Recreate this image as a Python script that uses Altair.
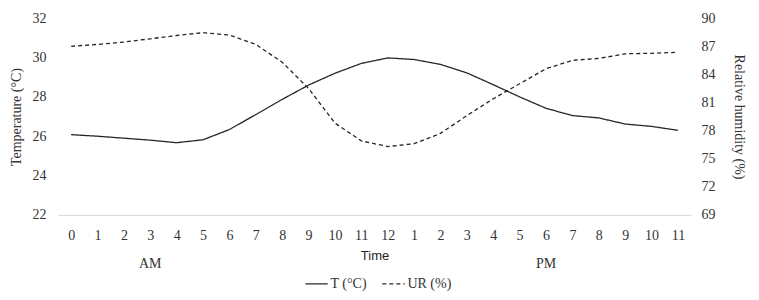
import json
import altair as alt
import pandas as pd

hour_labels = ["0", "1", "2", "3", "4", "5", "6", "7", "8", "9", "10", "11",
               "12", "1", "2", "3", "4", "5", "6", "7", "8", "9", "10", "11"]
temperature = [26.08, 26.0, 25.9, 25.8, 25.67, 25.82, 26.34, 27.1, 27.87, 28.6, 29.2, 29.7,
               29.98, 29.9, 29.65, 29.22, 28.62, 28.0, 27.42, 27.05, 26.93, 26.62, 26.5, 26.3]
humidity = [87.0, 87.2, 87.45, 87.8, 88.15, 88.45, 88.2, 87.2, 85.3, 82.5, 78.8, 76.9,
            76.3, 76.6, 77.7, 79.6, 81.4, 83.0, 84.6, 85.5, 85.7, 86.2, 86.25, 86.35]
series_names = ["T (°C)", "UR (%)"]
period_labels = ["AM", "PM"]
period_pos = [3, 18]

idx = list(range(len(hour_labels)))
df = pd.DataFrame({"idx": idx, "T": temperature, "UR": humidity,
                   "sT": series_names[0], "sUR": series_names[1]})
df_p = pd.DataFrame({"idx": period_pos, "label": period_labels})

SERIF = "Liberation Serif"
INK = "#262626"

x_enc = alt.X("idx:O",
              scale=alt.Scale(type="point", domain=idx, padding=0.5),
              axis=alt.Axis(labelExpr=f"{json.dumps(hour_labels)}[datum.value]",
                            labelAngle=0,
                            title="Time", ticks=False, grid=False,
                            domainColor="#d9d9d9", domainWidth=1,
                            labelPadding=14, labelOverlap=False,
                            titleFont="Liberation Sans", titleFontSize=13,
                            titleFontWeight="normal", titlePadding=7,
                            titleColor="#222"))

dash = alt.StrokeDash("s:N",
                      scale=alt.Scale(domain=series_names, range=[[1, 0], [4, 3]]),
                      legend=alt.Legend(title=None, orient="none", direction="horizontal",
                                        legendX=247, legendY=254, symbolType="stroke",
                                        symbolSize=500, symbolStrokeWidth=1.3,
                                        symbolStrokeColor=INK, labelFont=SERIF,
                                        labelFontSize=14, labelColor="#333",
                                        labelOffset=2, columnPadding=12))

line_t = alt.Chart(df).transform_calculate(s="datum.sT").mark_line(
    color=INK, strokeWidth=1.3).encode(
    x=x_enc,
    y=alt.Y("T:Q", scale=alt.Scale(domain=[22, 32], nice=False, zero=False),
            axis=alt.Axis(values=[22, 24, 26, 28, 30, 32], title="Temperature (°C)",
                          grid=False, domain=False, ticks=False, labelPadding=12,
                          titlePadding=8, titleFontSize=14)),
    strokeDash=dash)

line_ur = alt.Chart(df).transform_calculate(s="datum.sUR").mark_line(
    color=INK, strokeWidth=1.3).encode(
    x=x_enc,
    y=alt.Y("UR:Q", scale=alt.Scale(domain=[69, 90], nice=False, zero=False),
            axis=alt.Axis(orient="right", values=[69, 72, 75, 78, 81, 84, 87, 90],
                          title="Relative humidity (%)", grid=False, domain=False,
                          ticks=False, labelPadding=10, titlePadding=16,
                          titleFontSize=14)),
    strokeDash=dash)

periods = alt.Chart(df_p).mark_text(font=SERIF, fontSize=14, color="#333").encode(
    x=alt.X("idx:O"), y=alt.value(246), text="label:N")

chart = alt.layer(line_t, line_ur, periods).resolve_scale(y="independent").properties(
    width=634, height=197,
    autosize=alt.AutoSizeParams(type="none"),
    padding={"left": 50, "top": 10, "right": 60, "bottom": 80},
).configure_view(stroke=None).configure_axis(
    labelFont=SERIF, labelFontSize=14, labelColor="#333",
    titleFont=SERIF, titleColor="#333", titleFontWeight="normal")

chart.save("out.html", embed_options={"renderer": "svg", "actions": False})
